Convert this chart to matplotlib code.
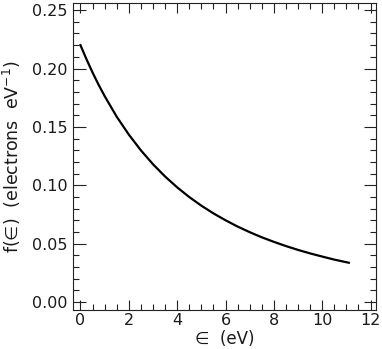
import matplotlib
matplotlib.use("Agg")
import matplotlib.pyplot as plt
from matplotlib.ticker import MultipleLocator

# values
energy = [0.0, 0.25, 0.5, 0.75, 1.0, 1.5, 2.0, 2.5, 3.0, 3.5, 4.0, 4.5,
          5.0, 5.5, 6.0, 6.5, 7.0, 7.5, 8.0, 8.5, 9.0, 9.5, 10.0, 10.5, 11.1]
f_energy = [0.2200, 0.2079, 0.1966, 0.1861, 0.1764, 0.1587, 0.1434, 0.1299,
            0.1180, 0.1075, 0.0982, 0.0899, 0.0825, 0.0759, 0.0700, 0.0646,
            0.0598, 0.0554, 0.0515, 0.0479, 0.0446, 0.0416, 0.0389, 0.0363,
            0.0336]

x_ticks = [0, 2, 4, 6, 8, 10, 12]
y_ticks = [0.00, 0.05, 0.10, 0.15, 0.20, 0.25]

plt.rcParams['font.family'] = ['DejaVu Sans']

fig = plt.figure(figsize=(3.82, 3.49), dpi=100)
ax = fig.add_axes([0.191, 0.112, 0.793, 0.879])

ax.plot(energy, f_energy, color='black', linewidth=1.6)

ax.set_xlim(-0.31, 12.22)
ax.set_ylim(-0.0068, 0.256)
ax.set_xticks(x_ticks)
ax.set_yticks(y_ticks)
ax.set_yticklabels([f"{v:.2f}" for v in y_ticks])
ax.xaxis.set_minor_locator(MultipleLocator(0.5))
ax.yaxis.set_minor_locator(MultipleLocator(0.01))

ax.tick_params(which='both', direction='in', top=True, right=True,
               labelsize=11.5, width=0.8, colors='#222222', labelcolor='#1a1a1a')
ax.tick_params(axis='x', which='major', length=7.5, pad=2.5)
ax.tick_params(axis='y', which='major', length=9, pad=4)
ax.tick_params(which='minor', length=4)

for s in ax.spines.values():
    s.set_linewidth(0.8)
    s.set_color('#222222')

ax.set_xlabel("\u2208  (eV)", fontsize=12, labelpad=1, color='#1a1a1a')
ax.set_ylabel("f(\u2208)  (electrons  eV$^{-1}$)", fontsize=12.5, labelpad=6,
              color='#1a1a1a')

fig.savefig("out.png", dpi=100)
